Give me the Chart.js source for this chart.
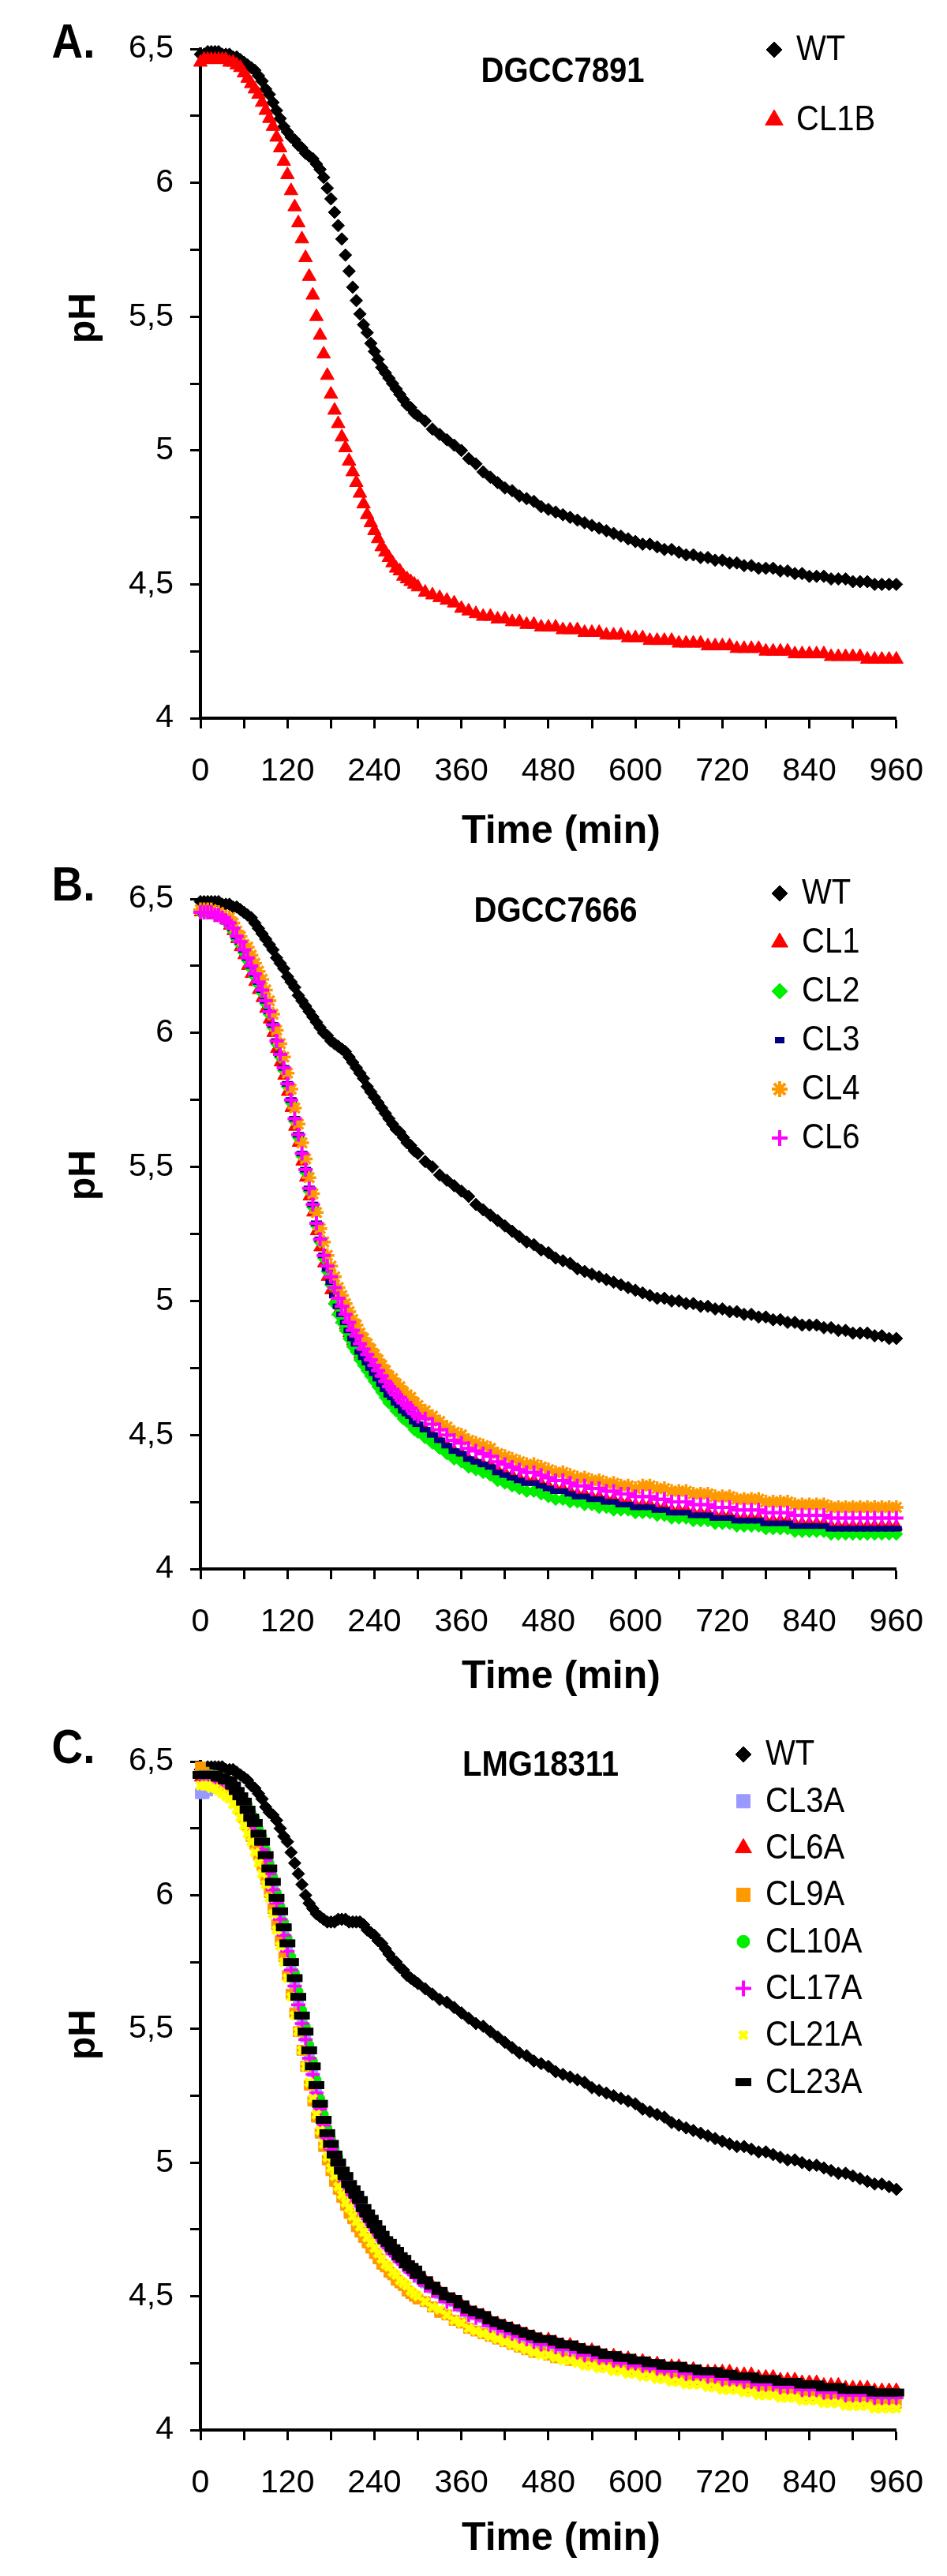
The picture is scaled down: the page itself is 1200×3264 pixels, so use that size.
<!DOCTYPE html>
<html>
<head>
<meta charset="utf-8">
<title>pH curves</title>
<script src="https://cdn.jsdelivr.net/npm/chart.js@4.4.1/dist/chart.umd.min.js"></script>
<style>
  body { margin: 0; background: #fff; width: 1200px; height: 3264px; position: relative; overflow: hidden; }
  canvas { position: absolute; left: 0; }
</style>
</head>
<body>
<canvas id="chartA" width="1200" height="1090" style="top:0px"></canvas>
<canvas id="chartB" width="1200" height="1090" style="top:1090px"></canvas>
<canvas id="chartC" width="1200" height="1084" style="top:2180px"></canvas>
<script>
// sampling times (min): every 5 min up to 300, then every 10 min
var times = [0,5,10,15,20,25,30,35,40,45,50,55,60,65,70,75,80,85,90,95,100,105,110,115,120,125,130,135,140,145,150,155,160,165,170,175,180,185,190,195,200,205,210,215,220,225,230,235,240,245,250,255,260,265,270,275,280,285,290,295,300,
  310,320,330,340,350,360,370,380,390,400,410,420,430,440,450,460,470,480,490,500,510,520,530,540,550,560,570,580,590,600,610,620,630,640,650,660,670,680,690,700,710,720,730,740,750,760,770,780,790,800,810,820,830,840,850,860,870,880,890,900,910,920,930,940,950,960];

// A. DGCC7891
var wtA = [6.48,6.48,6.49,6.49,6.49,6.49,6.48,6.48,6.48,6.47,6.47,6.46,6.45,6.44,6.43,6.42,6.40,6.38,6.35,6.33,6.30,6.27,6.24,6.21,6.19,6.17,6.16,6.14,6.13,6.11,6.10,6.09,6.07,6.05,6.02,5.98,5.94,5.89,5.84,5.79,5.73,5.67,5.61,5.56,5.51,5.47,5.44,5.40,5.37,5.34,5.31,5.29,5.27,5.25,5.23,5.21,5.19,5.17,5.16,5.14,5.13,
  5.11,5.08,5.06,5.04,5.02,5.00,4.97,4.95,4.92,4.90,4.88,4.86,4.85,4.83,4.82,4.81,4.79,4.78,4.77,4.76,4.75,4.74,4.73,4.72,4.71,4.70,4.69,4.68,4.67,4.66,4.65,4.65,4.64,4.63,4.63,4.62,4.61,4.61,4.60,4.60,4.59,4.59,4.58,4.58,4.57,4.57,4.56,4.56,4.56,4.55,4.55,4.54,4.54,4.53,4.53,4.53,4.52,4.52,4.52,4.51,4.51,4.51,4.50,4.50,4.50,4.50];
var cl1bA = [6.45,6.46,6.46,6.46,6.46,6.46,6.46,6.46,6.45,6.45,6.44,6.43,6.41,6.39,6.37,6.35,6.33,6.30,6.27,6.24,6.21,6.17,6.13,6.08,6.03,5.97,5.91,5.85,5.79,5.72,5.65,5.58,5.50,5.43,5.36,5.28,5.21,5.15,5.10,5.05,5.01,4.96,4.92,4.88,4.84,4.80,4.76,4.73,4.70,4.67,4.64,4.62,4.60,4.58,4.56,4.55,4.53,4.52,4.51,4.50,4.49,
  4.47,4.46,4.45,4.44,4.43,4.41,4.40,4.39,4.38,4.38,4.37,4.37,4.36,4.36,4.35,4.35,4.34,4.34,4.34,4.33,4.33,4.33,4.32,4.32,4.32,4.31,4.31,4.31,4.30,4.30,4.30,4.29,4.29,4.29,4.29,4.28,4.28,4.28,4.28,4.27,4.27,4.27,4.27,4.26,4.26,4.26,4.26,4.25,4.25,4.25,4.25,4.24,4.24,4.24,4.24,4.24,4.23,4.23,4.23,4.23,4.23,4.22,4.22,4.22,4.22,4.22];

// B. DGCC7666
var wtB = [6.49,6.49,6.49,6.49,6.49,6.49,6.48,6.48,6.48,6.47,6.47,6.46,6.45,6.44,6.43,6.41,6.39,6.37,6.35,6.33,6.31,6.28,6.26,6.24,6.21,6.19,6.17,6.14,6.12,6.10,6.08,6.06,6.04,6.02,6.00,5.99,5.97,5.96,5.95,5.94,5.93,5.91,5.89,5.87,5.85,5.83,5.80,5.78,5.76,5.74,5.72,5.70,5.68,5.66,5.64,5.63,5.61,5.59,5.58,5.56,5.55,
  5.52,5.50,5.47,5.45,5.43,5.41,5.39,5.36,5.34,5.32,5.30,5.28,5.26,5.24,5.22,5.21,5.19,5.18,5.16,5.15,5.14,5.12,5.11,5.10,5.09,5.08,5.07,5.06,5.05,5.04,5.03,5.02,5.01,5.01,5.00,5.00,4.99,4.99,4.98,4.98,4.97,4.97,4.96,4.96,4.95,4.95,4.94,4.94,4.93,4.93,4.92,4.92,4.91,4.91,4.91,4.90,4.90,4.89,4.89,4.88,4.88,4.88,4.87,4.87,4.86,4.86];
var cl1B = [6.45,6.45,6.45,6.45,6.44,6.44,6.43,6.42,6.40,6.38,6.35,6.32,6.29,6.25,6.22,6.19,6.16,6.13,6.09,6.05,6.00,5.94,5.89,5.84,5.78,5.72,5.65,5.59,5.52,5.46,5.39,5.33,5.26,5.20,5.14,5.09,5.04,5.00,4.96,4.93,4.91,4.88,4.85,4.83,4.80,4.78,4.76,4.75,4.73,4.71,4.69,4.67,4.65,4.64,4.62,4.61,4.59,4.58,4.57,4.55,4.54,
  4.52,4.50,4.48,4.46,4.44,4.43,4.41,4.40,4.39,4.39,4.37,4.36,4.35,4.34,4.33,4.33,4.32,4.31,4.30,4.30,4.29,4.28,4.28,4.27,4.27,4.26,4.26,4.25,4.25,4.24,4.24,4.24,4.23,4.23,4.22,4.22,4.22,4.21,4.21,4.21,4.20,4.20,4.20,4.19,4.19,4.19,4.19,4.18,4.18,4.18,4.18,4.17,4.17,4.17,4.17,4.17,4.16,4.16,4.16,4.16,4.16,4.16,4.16,4.16,4.16,4.16];
var cl2B = [6.45,6.45,6.45,6.45,6.44,6.44,6.43,6.42,6.40,6.38,6.35,6.33,6.30,6.27,6.24,6.21,6.18,6.15,6.11,6.07,6.02,5.96,5.91,5.86,5.80,5.74,5.67,5.61,5.54,5.48,5.41,5.35,5.28,5.22,5.16,5.11,5.06,4.99,4.95,4.92,4.89,4.86,4.83,4.81,4.78,4.76,4.74,4.72,4.70,4.68,4.66,4.64,4.62,4.61,4.59,4.58,4.56,4.55,4.54,4.52,4.51,
  4.49,4.47,4.45,4.43,4.41,4.40,4.38,4.37,4.36,4.35,4.33,4.32,4.31,4.30,4.29,4.29,4.28,4.27,4.26,4.26,4.25,4.25,4.24,4.24,4.23,4.23,4.22,4.22,4.22,4.21,4.21,4.21,4.20,4.20,4.19,4.19,4.19,4.18,4.18,4.18,4.17,4.17,4.17,4.16,4.16,4.16,4.16,4.15,4.15,4.15,4.15,4.14,4.14,4.14,4.14,4.14,4.13,4.13,4.13,4.13,4.13,4.13,4.13,4.13,4.13,4.13];
var cl3B = [6.45,6.45,6.45,6.45,6.44,6.44,6.43,6.42,6.41,6.39,6.36,6.34,6.31,6.28,6.25,6.22,6.19,6.16,6.12,6.08,6.03,5.97,5.92,5.87,5.81,5.75,5.68,5.62,5.55,5.49,5.42,5.36,5.29,5.23,5.17,5.12,5.07,5.02,4.98,4.95,4.92,4.89,4.86,4.84,4.81,4.79,4.77,4.75,4.73,4.71,4.69,4.67,4.65,4.64,4.62,4.61,4.59,4.58,4.57,4.55,4.54,
  4.52,4.50,4.48,4.46,4.44,4.43,4.41,4.40,4.39,4.38,4.36,4.35,4.34,4.33,4.32,4.32,4.31,4.30,4.29,4.29,4.28,4.27,4.27,4.26,4.26,4.25,4.25,4.24,4.24,4.23,4.23,4.23,4.22,4.22,4.21,4.21,4.21,4.20,4.20,4.20,4.19,4.19,4.19,4.18,4.18,4.18,4.18,4.17,4.17,4.17,4.17,4.16,4.16,4.16,4.16,4.16,4.15,4.15,4.15,4.15,4.15,4.15,4.15,4.15,4.15,4.15];
var cl4B = [6.46,6.46,6.46,6.46,6.45,6.45,6.44,6.43,6.43,6.41,6.38,6.36,6.33,6.32,6.29,6.26,6.23,6.20,6.16,6.12,6.07,6.01,5.96,5.91,5.85,5.79,5.72,5.66,5.59,5.53,5.46,5.40,5.33,5.27,5.22,5.17,5.13,5.09,5.05,5.02,4.99,4.96,4.93,4.91,4.88,4.86,4.84,4.82,4.80,4.78,4.76,4.74,4.72,4.71,4.69,4.68,4.66,4.65,4.64,4.62,4.61,
  4.59,4.57,4.55,4.53,4.51,4.50,4.48,4.47,4.46,4.45,4.43,4.42,4.41,4.40,4.39,4.39,4.38,4.37,4.36,4.36,4.35,4.34,4.34,4.33,4.33,4.32,4.32,4.31,4.31,4.30,4.31,4.31,4.30,4.30,4.29,4.29,4.29,4.28,4.28,4.28,4.27,4.27,4.27,4.26,4.26,4.26,4.26,4.25,4.25,4.25,4.25,4.24,4.24,4.24,4.24,4.24,4.23,4.23,4.23,4.23,4.23,4.23,4.23,4.23,4.23,4.23];
var cl6B = [6.45,6.45,6.45,6.45,6.44,6.44,6.43,6.42,6.41,6.39,6.36,6.34,6.31,6.28,6.25,6.22,6.19,6.16,6.12,6.08,6.03,5.97,5.92,5.87,5.81,5.75,5.68,5.62,5.55,5.49,5.42,5.36,5.29,5.23,5.17,5.13,5.09,5.05,5.01,4.98,4.95,4.92,4.89,4.87,4.84,4.82,4.80,4.78,4.76,4.74,4.72,4.70,4.68,4.67,4.65,4.64,4.62,4.61,4.60,4.58,4.57,
  4.56,4.54,4.52,4.50,4.48,4.47,4.45,4.44,4.43,4.42,4.40,4.39,4.38,4.37,4.36,4.36,4.35,4.34,4.33,4.33,4.32,4.31,4.31,4.30,4.30,4.29,4.29,4.28,4.28,4.27,4.27,4.27,4.26,4.26,4.25,4.25,4.25,4.24,4.24,4.24,4.23,4.23,4.23,4.22,4.22,4.22,4.22,4.21,4.21,4.21,4.21,4.20,4.20,4.20,4.20,4.20,4.19,4.19,4.19,4.19,4.19,4.19,4.19,4.19,4.19,4.19];

// C. LMG18311
var wtC = [6.47,6.47,6.48,6.48,6.48,6.48,6.48,6.47,6.47,6.47,6.46,6.45,6.44,6.43,6.41,6.40,6.38,6.36,6.33,6.31,6.30,6.28,6.25,6.22,6.20,6.16,6.12,6.08,6.04,6.00,5.97,5.95,5.93,5.92,5.91,5.90,5.90,5.90,5.91,5.91,5.91,5.90,5.90,5.90,5.90,5.89,5.87,5.86,5.85,5.83,5.82,5.80,5.78,5.76,5.75,5.73,5.72,5.70,5.69,5.68,5.67,
  5.65,5.63,5.61,5.60,5.58,5.56,5.54,5.52,5.51,5.49,5.47,5.45,5.43,5.41,5.40,5.38,5.37,5.36,5.34,5.33,5.32,5.31,5.30,5.28,5.27,5.26,5.25,5.24,5.23,5.22,5.20,5.19,5.18,5.17,5.15,5.14,5.13,5.12,5.11,5.10,5.09,5.08,5.07,5.06,5.06,5.05,5.04,5.04,5.03,5.02,5.01,5.01,5.00,4.99,4.99,4.98,4.97,4.96,4.96,4.95,4.94,4.93,4.92,4.92,4.91,4.90];
var cl3aC = [6.38,6.38,6.39,6.40,6.41,6.41,6.41,6.41,6.41,6.40,6.38,6.36,6.34,6.31,6.28,6.25,6.22,6.18,6.14,6.09,6.03,5.98,5.92,5.86,5.80,5.73,5.67,5.60,5.53,5.47,5.40,5.34,5.27,5.21,5.15,5.10,5.06,5.02,4.99,4.96,4.94,4.91,4.89,4.87,4.85,4.82,4.80,4.78,4.76,4.74,4.72,4.70,4.69,4.67,4.66,4.64,4.63,4.61,4.60,4.59,4.57,
  4.55,4.53,4.51,4.49,4.48,4.46,4.44,4.43,4.42,4.40,4.39,4.38,4.37,4.36,4.35,4.34,4.33,4.33,4.32,4.31,4.31,4.30,4.29,4.29,4.28,4.27,4.27,4.26,4.26,4.25,4.25,4.24,4.24,4.23,4.23,4.23,4.22,4.22,4.21,4.21,4.21,4.20,4.20,4.19,4.19,4.19,4.18,4.18,4.18,4.17,4.17,4.17,4.16,4.16,4.16,4.15,4.15,4.15,4.14,4.14,4.14,4.14,4.13,4.13,4.13,4.13];
var cl6aC = [6.44,6.44,6.44,6.44,6.44,6.44,6.43,6.43,6.42,6.41,6.39,6.37,6.35,6.32,6.30,6.27,6.24,6.20,6.16,6.11,6.06,6.00,5.95,5.89,5.83,5.76,5.70,5.63,5.56,5.50,5.43,5.37,5.30,5.23,5.17,5.12,5.08,5.04,5.00,4.97,4.95,4.92,4.90,4.88,4.86,4.83,4.81,4.79,4.77,4.75,4.73,4.71,4.70,4.68,4.67,4.65,4.64,4.62,4.61,4.60,4.58,
  4.56,4.54,4.52,4.50,4.49,4.47,4.45,4.44,4.43,4.41,4.40,4.39,4.38,4.37,4.36,4.35,4.34,4.34,4.33,4.32,4.32,4.31,4.30,4.30,4.29,4.28,4.28,4.27,4.27,4.26,4.26,4.25,4.25,4.24,4.24,4.24,4.23,4.23,4.22,4.22,4.22,4.22,4.22,4.21,4.21,4.21,4.20,4.20,4.20,4.19,4.19,4.19,4.18,4.18,4.18,4.17,4.17,4.17,4.16,4.16,4.16,4.16,4.15,4.15,4.15,4.15];
var cl9aC = [6.48,6.46,6.45,6.44,6.44,6.43,6.42,6.41,6.40,6.38,6.35,6.32,6.29,6.26,6.22,6.19,6.15,6.11,6.06,6.01,5.95,5.89,5.83,5.77,5.70,5.63,5.56,5.49,5.42,5.36,5.29,5.23,5.17,5.11,5.06,5.01,4.97,4.93,4.90,4.87,4.84,4.81,4.79,4.76,4.74,4.72,4.70,4.68,4.66,4.64,4.62,4.61,4.59,4.58,4.56,4.55,4.54,4.52,4.51,4.50,4.49,
  4.48,4.46,4.44,4.43,4.41,4.40,4.38,4.37,4.36,4.35,4.34,4.33,4.32,4.31,4.30,4.29,4.29,4.28,4.27,4.27,4.26,4.26,4.25,4.25,4.24,4.24,4.23,4.23,4.22,4.22,4.21,4.21,4.21,4.20,4.20,4.19,4.19,4.19,4.18,4.18,4.17,4.17,4.17,4.16,4.16,4.16,4.15,4.15,4.15,4.14,4.14,4.14,4.13,4.13,4.13,4.12,4.12,4.12,4.12,4.11,4.11,4.11,4.11,4.10,4.10,4.10];
var cl10aC = [6.45,6.45,6.45,6.45,6.45,6.44,6.44,6.43,6.43,6.41,6.39,6.37,6.35,6.34,6.31,6.29,6.25,6.22,6.17,6.12,6.07,6.01,5.96,5.90,5.84,5.77,5.71,5.64,5.57,5.51,5.44,5.38,5.31,5.24,5.18,5.13,5.09,5.05,5.02,4.97,4.95,4.92,4.90,4.88,4.86,4.83,4.81,4.79,4.77,4.75,4.73,4.71,4.70,4.68,4.67,4.65,4.64,4.62,4.61,4.60,4.58,
  4.55,4.53,4.51,4.49,4.48,4.46,4.44,4.43,4.42,4.40,4.39,4.38,4.37,4.36,4.35,4.34,4.33,4.33,4.32,4.31,4.31,4.30,4.29,4.29,4.28,4.27,4.27,4.26,4.26,4.25,4.25,4.24,4.24,4.23,4.23,4.23,4.22,4.22,4.21,4.21,4.21,4.20,4.20,4.19,4.19,4.19,4.18,4.18,4.18,4.17,4.17,4.17,4.16,4.16,4.16,4.15,4.15,4.15,4.14,4.14,4.14,4.14,4.13,4.13,4.13,4.13];
var cl17aC = [6.44,6.44,6.44,6.44,6.44,6.43,6.43,6.42,6.42,6.40,6.38,6.36,6.33,6.30,6.27,6.24,6.21,6.17,6.13,6.08,6.02,5.97,5.91,5.85,5.79,5.72,5.66,5.59,5.52,5.46,5.39,5.33,5.26,5.20,5.14,5.09,5.05,5.01,4.98,4.95,4.93,4.90,4.88,4.86,4.84,4.81,4.79,4.77,4.75,4.73,4.71,4.70,4.68,4.66,4.65,4.63,4.62,4.61,4.59,4.58,4.57,
  4.54,4.52,4.50,4.48,4.47,4.45,4.43,4.42,4.41,4.39,4.38,4.37,4.36,4.35,4.34,4.33,4.32,4.32,4.31,4.30,4.30,4.29,4.28,4.28,4.27,4.26,4.26,4.25,4.25,4.24,4.24,4.23,4.23,4.22,4.22,4.22,4.21,4.21,4.20,4.20,4.20,4.19,4.19,4.18,4.18,4.18,4.17,4.17,4.17,4.16,4.16,4.16,4.15,4.15,4.15,4.14,4.14,4.14,4.13,4.13,4.13,4.13,4.12,4.12,4.12,4.12];
var cl21aC = [6.41,6.41,6.41,6.40,6.40,6.39,6.38,6.37,6.36,6.34,6.32,6.29,6.26,6.23,6.20,6.16,6.12,6.08,6.04,5.99,5.93,5.87,5.81,5.75,5.69,5.62,5.55,5.49,5.42,5.36,5.30,5.24,5.18,5.12,5.07,5.02,4.98,4.95,4.91,4.88,4.85,4.83,4.80,4.78,4.76,4.74,4.72,4.70,4.68,4.66,4.64,4.62,4.61,4.59,4.58,4.56,4.55,4.54,4.52,4.51,4.50,
  4.48,4.46,4.45,4.43,4.41,4.40,4.38,4.37,4.36,4.35,4.34,4.33,4.32,4.31,4.30,4.29,4.28,4.28,4.27,4.26,4.26,4.25,4.24,4.24,4.23,4.23,4.22,4.22,4.21,4.21,4.20,4.20,4.19,4.19,4.18,4.18,4.17,4.17,4.17,4.16,4.16,4.15,4.15,4.15,4.14,4.14,4.13,4.13,4.13,4.12,4.12,4.12,4.11,4.11,4.11,4.10,4.10,4.10,4.09,4.09,4.09,4.09,4.08,4.08,4.08,4.08];
var cl23aC = [6.45,6.45,6.45,6.45,6.45,6.44,6.44,6.43,6.43,6.41,6.39,6.37,6.35,6.32,6.29,6.27,6.23,6.20,6.15,6.10,6.05,5.99,5.94,5.88,5.82,5.75,5.69,5.62,5.55,5.49,5.42,5.36,5.29,5.22,5.16,5.11,5.07,5.03,5.00,4.97,4.95,4.92,4.90,4.88,4.86,4.83,4.81,4.79,4.77,4.75,4.73,4.71,4.70,4.68,4.67,4.65,4.64,4.62,4.61,4.60,4.58,
  4.56,4.54,4.52,4.50,4.49,4.47,4.45,4.44,4.43,4.41,4.40,4.39,4.38,4.37,4.36,4.35,4.34,4.34,4.33,4.32,4.32,4.31,4.30,4.30,4.29,4.28,4.28,4.27,4.27,4.26,4.26,4.25,4.25,4.24,4.24,4.24,4.23,4.23,4.22,4.22,4.22,4.21,4.21,4.20,4.20,4.20,4.19,4.19,4.19,4.18,4.18,4.18,4.17,4.17,4.17,4.16,4.16,4.16,4.15,4.15,4.15,4.15,4.14,4.14,4.14,4.14];

var FONT = "'Liberation Sans', Arial, Helvetica, sans-serif";
Chart.defaults.font.family = FONT;
Chart.defaults.color = '#000';

function toPoints(values) {
  return values.map(function(v, i) { return { x: times[i], y: v }; });
}

// one series: label, values, marker look in the plot and in the legend
function series(label, values, style, color, radius, width, legendRadius, legendWidth) {
  return {
    label: label,
    data: toPoints(values),
    pointStyle: style,
    pointRadius: radius,
    pointHoverRadius: radius,
    pointBackgroundColor: color,
    pointBorderColor: color,
    pointBorderWidth: width,
    legendRadius: legendRadius,
    legendWidth: legendWidth,
    showLine: false,
    clip: false
  };
}

// text squeezed a little in width, like the original figure lettering
function narrowText(ctx, text, x, y, squeeze) {
  ctx.save();
  ctx.translate(x, y);
  ctx.scale(squeeze, 1);
  ctx.fillText(text, 0, 0);
  ctx.restore();
}

function panelText(p) {
  return {
    id: 'panelText',
    afterDraw: function(chart) {
      var ctx = chart.ctx;
      ctx.save();
      ctx.fillStyle = '#000';
      ctx.textBaseline = 'middle';
      ctx.textAlign = 'center';
      ctx.font = 'bold 61px ' + FONT;
      narrowText(ctx, p.letter, 93, p.letterY, 0.9);
      ctx.font = 'bold 45px ' + FONT;
      narrowText(ctx, p.title, p.titleX, p.titleY, 0.89);
      ctx.font = 'bold 50px ' + FONT;
      ctx.fillText('Time (min)', 711, p.timeY);
      ctx.save();
      ctx.translate(107, p.phY);
      ctx.rotate(-Math.PI / 2);
      ctx.font = 'bold 48px ' + FONT;
      ctx.fillText('pH', 0, 0);
      ctx.restore();

      // legend, inside the plot at top right
      ctx.textAlign = 'left';
      ctx.font = '45px ' + FONT;
      chart.data.datasets.forEach(function(ds, i) {
        var y = p.legendY + i * p.legendStep;
        ctx.fillStyle = ds.pointBackgroundColor;
        ctx.strokeStyle = ds.pointBorderColor;
        ctx.lineWidth = ds.legendWidth;
        Chart.helpers.drawPoint(ctx, { pointStyle: ds.pointStyle, radius: ds.legendRadius, borderWidth: ds.legendWidth, rotation: 0 }, p.legendX, y);
        ctx.fillStyle = '#000';
        narrowText(ctx, ds.label, p.legendX + 28, y + 1, 0.89);
      });
      ctx.restore();
    }
  };
}

function makePanel(p) {
  p.datasets.forEach(function(ds, i) { ds.order = -i; }); // later series on top
  var ctx = document.getElementById(p.id).getContext('2d');
  return new Chart(ctx, {
    type: 'scatter',
    data: { datasets: p.datasets },
    options: {
      responsive: false,
      animation: false,
      devicePixelRatio: 1,
      events: [],
      layout: { padding: { top: p.plotTop, right: 60, bottom: 0, left: 0 } },
      plugins: { legend: { display: false }, tooltip: { enabled: false } },
      scales: {
        x: {
          type: 'linear', min: 0, max: 960,
          ticks: {
            stepSize: 60, autoSkip: false, maxRotation: 0, padding: 30,
            font: { size: 41 },
            callback: function(v) { return v % 120 === 0 ? String(v) : ''; }
          },
          grid: { drawOnChartArea: false, drawTicks: true, tickLength: 13, tickWidth: 3, tickColor: '#000' },
          border: { display: true, color: '#000', width: 4 },
          afterFit: function(scale) { scale.height = p.height - p.plotBottom; }
        },
        y: {
          type: 'linear', min: 4, max: 6.5,
          ticks: {
            stepSize: 0.25, autoSkip: false, padding: 21,
            font: { size: 41 },
            callback: function(v) { return (v * 2) % 1 === 0 ? String(v).replace('.', ',') : ''; }
          },
          grid: { drawOnChartArea: false, drawTicks: true, tickLength: 13, tickWidth: 3, tickColor: '#000' },
          border: { display: true, color: '#000', width: 4 },
          afterFit: function(scale) { scale.width = 254; }
        }
      }
    },
    plugins: [panelText(p)]
  });
}

makePanel({
  id: 'chartA', height: 1090, plotTop: 62, plotBottom: 910,
  letter: 'A.', letterY: 56, title: 'DGCC7891', titleX: 713, titleY: 92,
  timeY: 1054, phY: 403, legendX: 981, legendY: 63, legendStep: 89,
  datasets: [
    series('WT', wtA, 'rectRot', '#000000', 8, 1, 10, 1),
    series('CL1B', cl1bA, 'triangle', '#ff0000', 10, 1, 13, 1)
  ]
});

makePanel({
  id: 'chartB', height: 1090, plotTop: 49, plotBottom: 898,
  letter: 'B.', letterY: 34, title: 'DGCC7666', titleX: 704, titleY: 66,
  timeY: 1035, phY: 399, legendX: 988, legendY: 42, legendStep: 62,
  datasets: [
    series('WT', wtB, 'rectRot', '#000000', 8, 1, 10, 1),
    series('CL1', cl1B, 'triangle', '#ff0000', 9, 1, 12, 1),
    series('CL2', cl2B, 'rectRot', '#00ee00', 8, 1, 10, 1),
    series('CL3', cl3B, 'line', '#000080', 7, 7, 6, 8),
    series('CL4', cl4B, 'star', '#ff9900', 9, 3.5, 10, 4),
    series('CL6', cl6B, 'cross', '#ff00ff', 9, 4, 10, 4)
  ]
});

makePanel({
  id: 'chartC', height: 1084, plotTop: 52, plotBottom: 899,
  letter: 'C.', letterY: 37, title: 'LMG18311', titleX: 685, titleY: 58,
  timeY: 1037, phY: 398, legendX: 942, legendY: 43, legendStep: 59.3,
  datasets: [
    series('WT', wtC, 'rectRot', '#000000', 8, 1, 10, 1),
    series('CL3A', cl3aC, 'rect', '#9999ff', 9, 1, 12, 1),
    series('CL6A', cl6aC, 'triangle', '#ff0000', 9, 1, 12, 1),
    series('CL9A', cl9aC, 'rect', '#ff9900', 9, 1, 12, 1),
    series('CL10A', cl10aC, 'circle', '#00ee00', 6, 1, 8, 1),
    series('CL17A', cl17aC, 'cross', '#ff00ff', 9, 3.5, 10, 4),
    series('CL21A', cl21aC, 'crossRot', '#ffff00', 7, 5, 7, 5),
    series('CL23A', cl23aC, 'line', '#000000', 10, 10, 10, 10)
  ]
});
</script>
</body>
</html>
